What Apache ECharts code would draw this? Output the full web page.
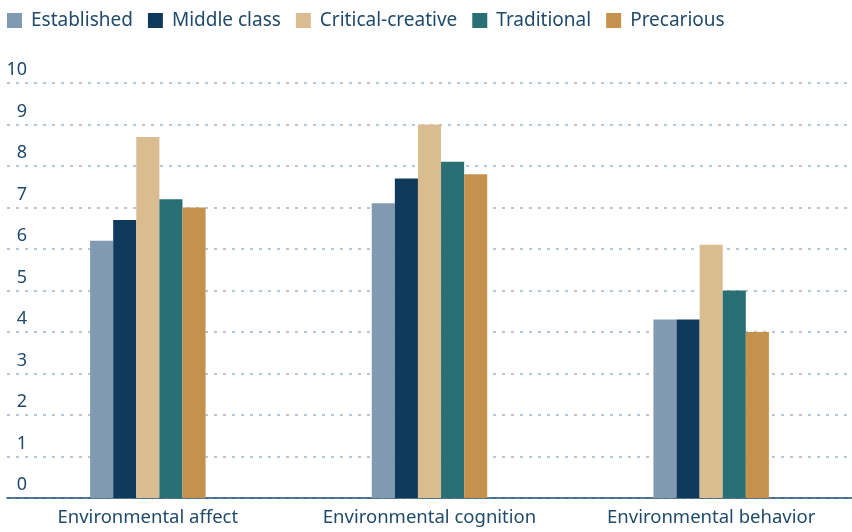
<!DOCTYPE html>
<html>
<head>
<meta charset="utf-8">
<script src="https://cdn.jsdelivr.net/npm/echarts@6/dist/echarts.min.js"></script>
<style>
  html, body { margin: 0; padding: 0; background: #fff; }
  #chart { width: 852px; height: 532px; }
</style>
</head>
<body>
<div id="chart"></div>
<script>
// categories and series values
var categories = ['Environmental affect', 'Environmental cognition', 'Environmental behavior'];
var groupNames = ['Established', 'Middle class', 'Critical-creative', 'Traditional', 'Precarious'];
var established = [6.2, 7.1, 4.3];
var middleClass = [6.7, 7.7, 4.3];
var criticalCreative = [8.7, 9.0, 6.1];
var traditional = [7.2, 8.1, 5.0];
var precarious = [7.0, 7.8, 4.0];
var colors = ['#7f9ab1', '#103a5c', '#d9bd91', '#296f76', '#c5924e'];

var allValues = [established, middleClass, criticalCreative, traditional, precarious];
var textColor = '#1f4a6b';
var font = 'Noto Sans';

var series = [];
for (var i = 0; i < groupNames.length; i++) {
  series.push({
    name: groupNames[i],
    type: 'bar',
    barGap: 0,
    barCategoryGap: '59%',
    itemStyle: { color: colors[i] },
    data: allValues[i]
  });
}

var myChart = echarts.init(document.getElementById('chart'));
var option = {
  animation: false,
  color: colors,
  legend: {
    left: 2,
    top: 6,
    icon: 'rect',
    itemWidth: 15,
    itemHeight: 15,
    itemGap: 15,
    textStyle: { color: textColor, fontSize: 19, fontFamily: font, padding: [0, 0, 0, 4] }
  },
  grid: { left: 7, right: 0, top: 83, bottom: 34 },
  xAxis: {
    type: 'category',
    data: categories,
    axisTick: { show: false },
    axisLine: { lineStyle: { color: '#1f4e6e', width: 1.5 } },
    axisLabel: { color: textColor, fontSize: 18.5, fontFamily: font, margin: 10 }
  },
  yAxis: {
    type: 'value',
    min: 0,
    max: 10,
    interval: 1,
    axisLine: { show: false },
    axisTick: { show: false },
    axisLabel: {
      inside: true,
      margin: 20,
      align: 'right',
      verticalAlign: 'bottom',
      padding: [0, 0, 4, 0],
      color: textColor,
      fontSize: 18,
      fontFamily: font
    },
    splitLine: { lineStyle: { color: '#9fb4c8', type: [3, 6], width: 1.5 } }
  },
  series: series
};
myChart.setOption(option);
</script>
</body>
</html>
